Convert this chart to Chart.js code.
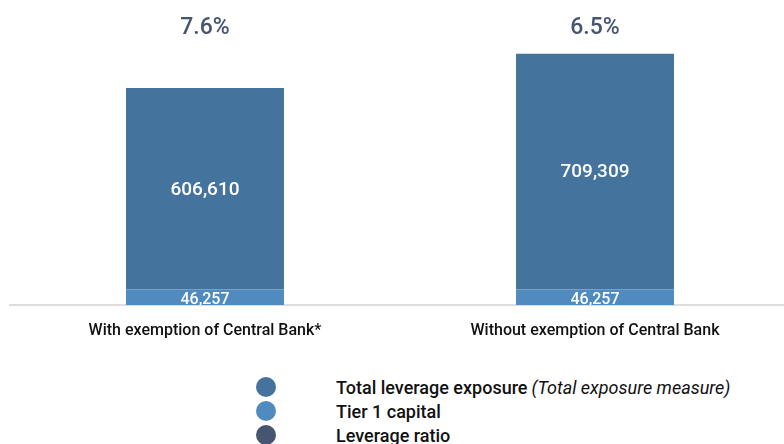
<!DOCTYPE html>
<html><head><meta charset="utf-8">
<script src="https://cdn.jsdelivr.net/npm/chart.js@4/dist/chart.umd.min.js"></script>
<style>
html,body{margin:0;padding:0;background:#fff;width:784px;height:444px;overflow:hidden;position:relative;}
#wrap{position:absolute;left:0;top:0;width:790px;height:360px;}
#legend{position:absolute;left:256px;top:375px;font-family:Roboto,sans-serif;font-weight:500;font-size:18px;color:#111;}
.li{height:24px;display:flex;align-items:center;}
.dot{width:20px;height:20px;border-radius:50%;margin-right:60px;flex:none;}
</style></head><body>
<div id="wrap"><canvas id="c"></canvas></div>
<div id="legend"></div>
<script>
const categories = ["With exemption of Central Bank*", "Without exemption of Central Bank"];
const tier1Capital = [46257, 46257];
const totalExposure = [606610, 709309];
const leverageRatio = [7.6, 6.5];
const seriesNames = ["Total leverage exposure", "Tier 1 capital", "Leverage ratio"];
const seriesNotes = ["(Total exposure measure)", "", ""];
const colors = ["#44739d", "#4f8bbf", "#475670"];

const fmt = v => v.toLocaleString('en-US');

const labelsPlugin = {
  id: 'labels',
  afterDatasetsDraw(chart) {
    const ctx = chart.ctx;
    const area = chart.chartArea;
    ctx.save();
    ctx.textAlign = 'center';
    ctx.textBaseline = 'middle';
    chart.data.datasets.forEach((ds, di) => {
      const meta = chart.getDatasetMeta(di);
      meta.data.forEach((bar, i) => {
        const mid = (bar.y + bar.base) / 2;
        ctx.fillStyle = '#ffffff';
        if (di === 0) {
          ctx.save();
          ctx.beginPath();
          ctx.rect(area.left, area.top, area.right - area.left, area.bottom - area.top);
          ctx.clip();
          ctx.font = '500 16px Roboto, sans-serif';
          ctx.fillText(fmt(ds.data[i]), bar.x, mid + 3);
          ctx.restore();
        } else {
          ctx.font = '500 19px Roboto, sans-serif';
          ctx.fillText(fmt(ds.data[i]), bar.x, mid + 1);
        }
      });
    });
    const top = chart.getDatasetMeta(1);
    top.data.forEach((bar, i) => {
      ctx.fillStyle = '#475670';
      ctx.font = '500 23px Roboto, sans-serif';
      ctx.fillText(leverageRatio[i].toFixed(1) + '%', bar.x, 28.5);
    });
    ctx.restore();
  }
};

new Chart(document.getElementById('c'), {
  type: 'bar',
  data: {
    labels: categories,
    datasets: [
      { label: seriesNames[1], data: tier1Capital, backgroundColor: colors[1], borderWidth: 0 },
      { label: seriesNames[0], data: totalExposure, backgroundColor: colors[0], borderWidth: 0 }
    ]
  },
  options: {
    responsive: true, maintainAspectRatio: false, animation: false,
    layout: { padding: { left: 10, right: 0, top: 39, bottom: 3.8 } },
    plugins: { legend: { display: false }, tooltip: { enabled: false } },
    datasets: { bar: { categoryPercentage: 1, barPercentage: 0.405 } },
    scales: {
      x: {
        stacked: true,
        grid: { display: false, drawTicks: false },
        border: { display: true, color: '#dddddd', width: 2 },
        ticks: { padding: 16, color: '#111', font: { family: 'Roboto', size: 16, weight: '500' } }
      },
      y: {
        stacked: true, display: false, min: 0, max: 800000
      }
    }
  },
  plugins: [labelsPlugin]
});

const lg = document.getElementById('legend');
[0, 1, 2].forEach(i => {
  const d = document.createElement('div'); d.className = 'li';
  const dot = document.createElement('span'); dot.className = 'dot'; dot.style.background = colors[i];
  const t = document.createElement('span'); t.textContent = seriesNames[i];
  d.appendChild(dot); d.appendChild(t);
  if (seriesNotes[i]) { const n = document.createElement('i'); n.textContent = seriesNotes[i]; n.style.fontWeight = '400'; n.style.marginLeft = '4px'; d.appendChild(n); }
  lg.appendChild(d);
});
</script>
</body></html>
